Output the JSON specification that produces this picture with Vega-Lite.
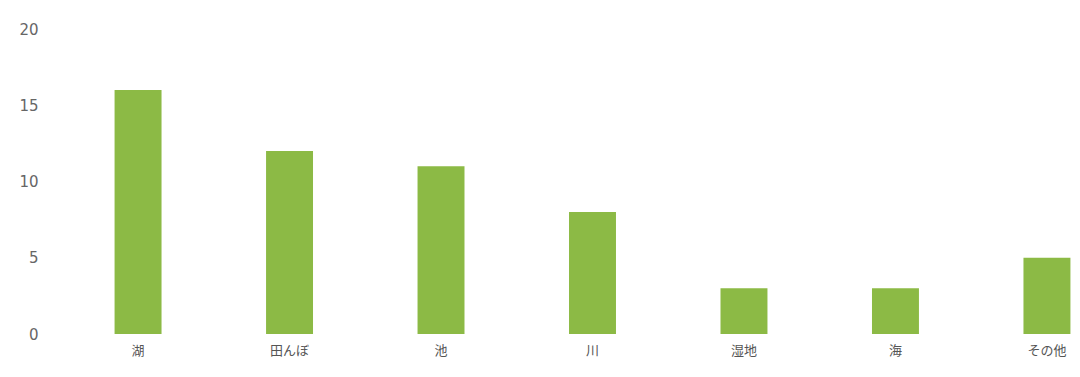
{
  "$schema": "https://vega.github.io/schema/vega-lite/v6.json",
  "autosize": {"type": "none"},
  "width": 971,
  "height": 305,
  "padding": {"left": 107, "top": 29, "right": 2, "bottom": 43},
  "background": "white",
  "config": {"view": {"stroke": null}, "font": "Noto Sans CJK JP"},
  "data": {"values": [
    {"place": "湖", "count": 16},
    {"place": "田んぼ", "count": 12},
    {"place": "池", "count": 11},
    {"place": "川", "count": 8},
    {"place": "湿地", "count": 3},
    {"place": "海", "count": 3},
    {"place": "その他", "count": 5}
  ]},
  "mark": {"type": "bar", "color": "#8cba45"},
  "encoding": {
    "x": {"field": "place", "type": "nominal", "sort": null,
      "scale": {"paddingInner": 0.69, "paddingOuter": 0.05},
      "axis": {"title": null, "labelAngle": 0, "domain": false, "ticks": false, "labelPadding": 10, "labelFontSize": 13, "labelColor": "#555", "labelFont": "Noto Sans CJK JP"}},
    "y": {"field": "count", "type": "quantitative",
      "scale": {"domain": [0, 20]},
      "axis": {"title": null, "values": [0, 5, 10, 15, 20], "domain": false, "ticks": false, "grid": false, "labelPadding": 69, "labelFontSize": 15, "labelColor": "#666", "labelFont": "DejaVu Sans"}}
  }
}
